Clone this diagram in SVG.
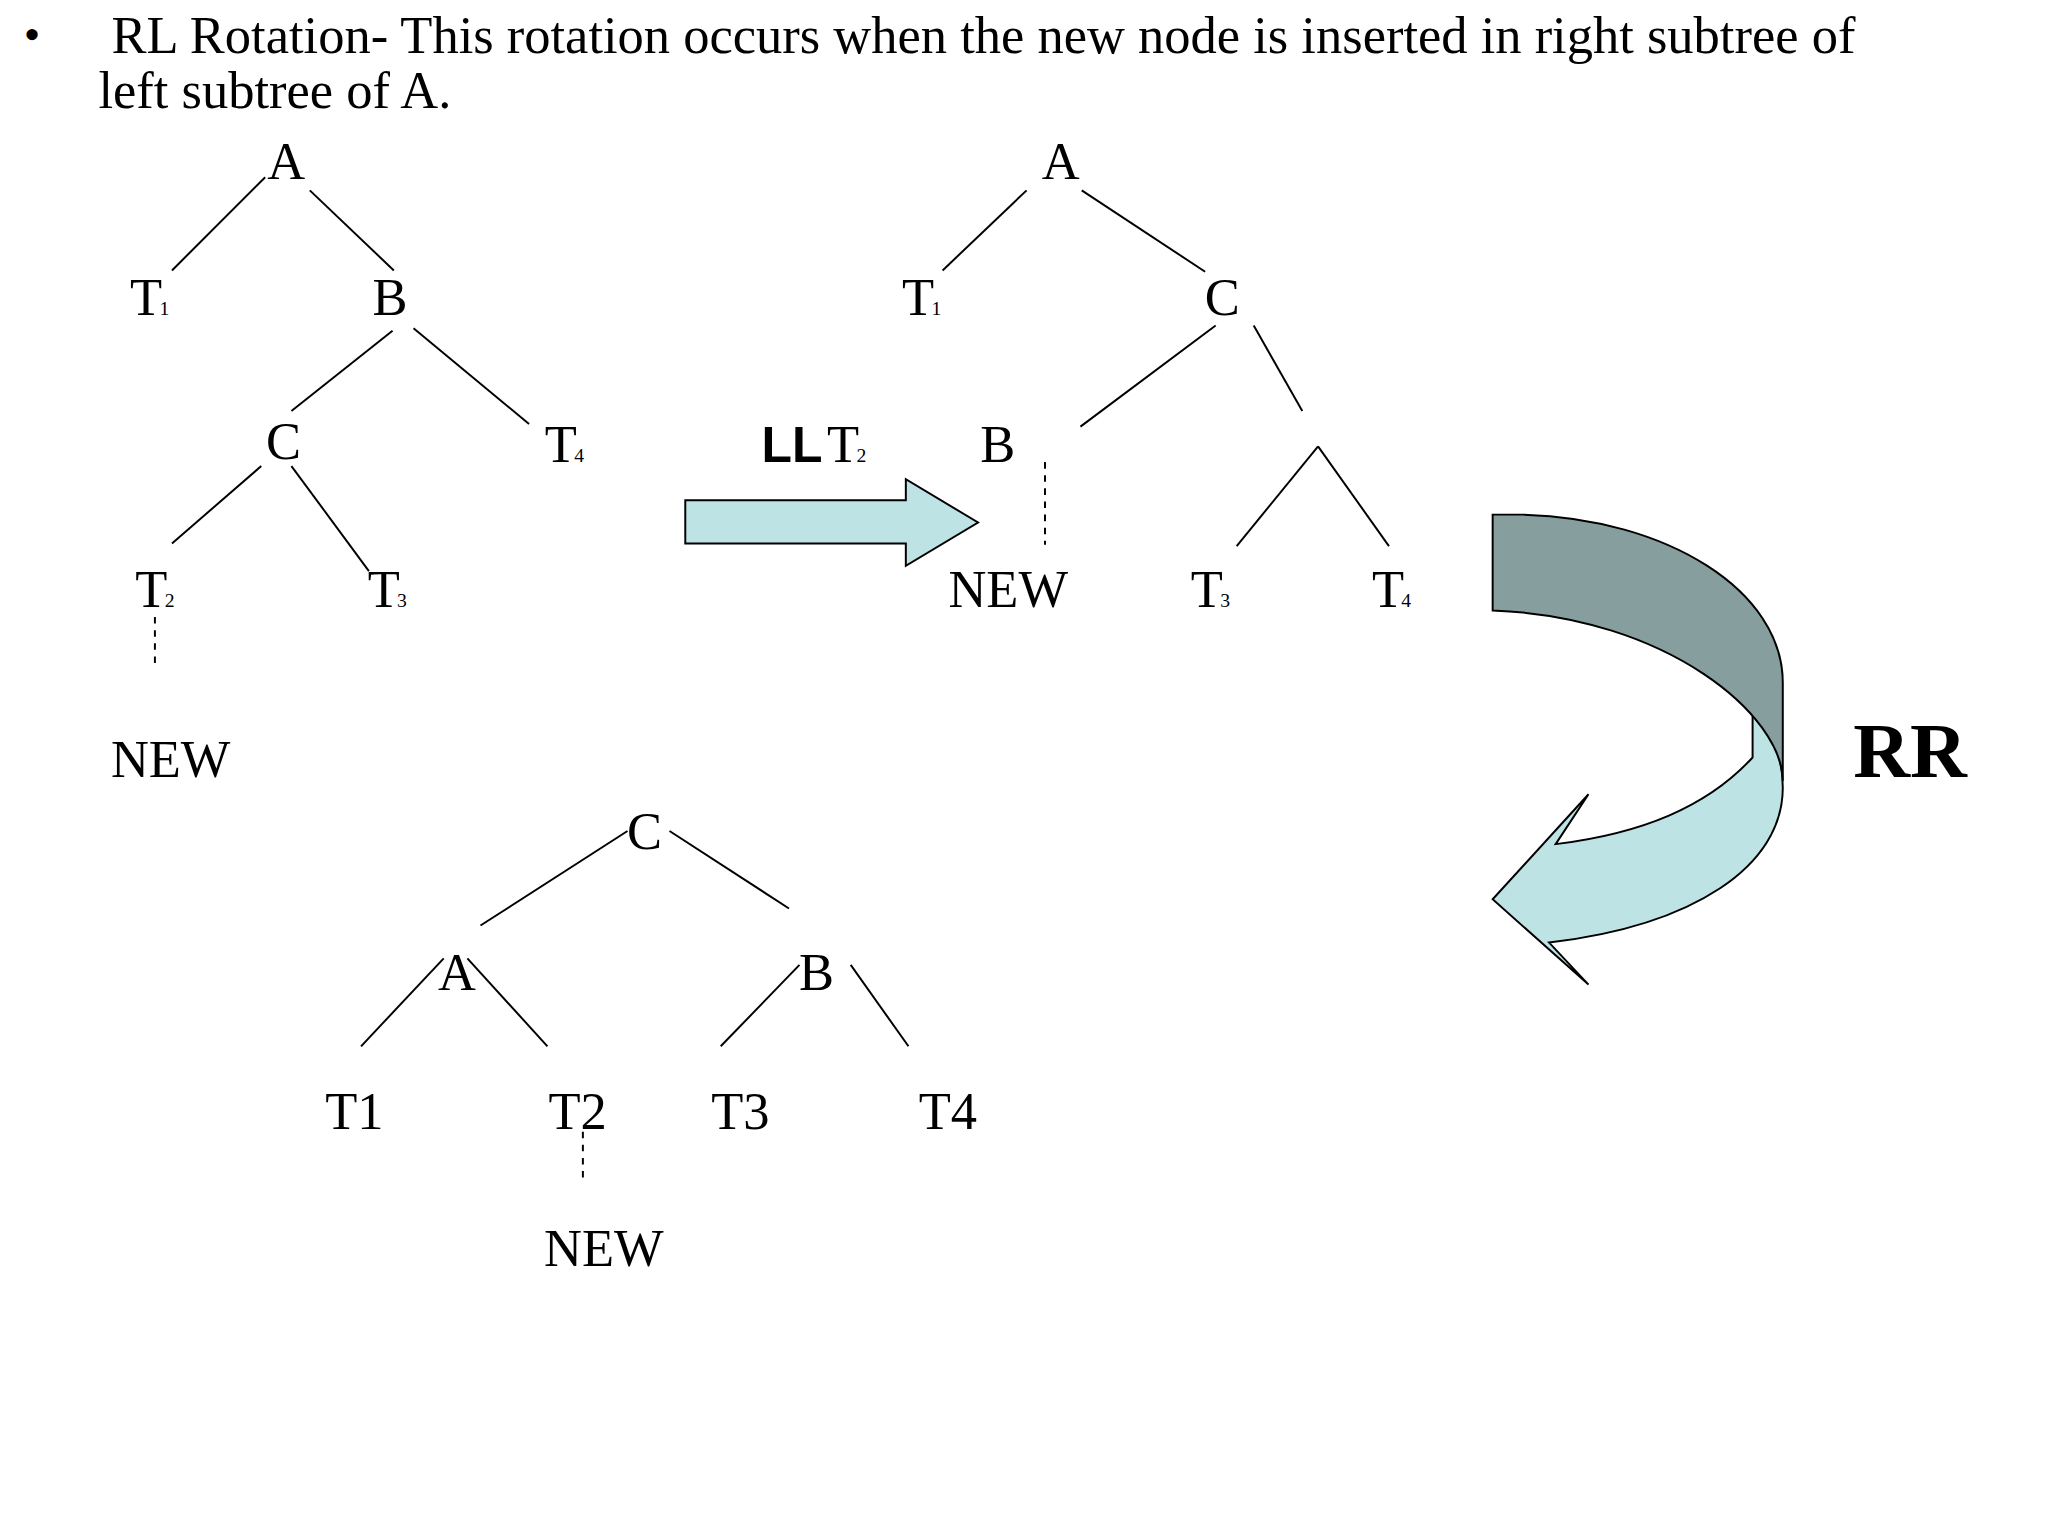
<svg xmlns="http://www.w3.org/2000/svg" width="2048" height="1536" viewBox="0 0 2048 1536">
<style>
text{font-family:"Liberation Serif","Times New Roman",serif;fill:#000}
.l{font-size:40px;text-anchor:middle}
.s{font-size:15px}
.e line{stroke:#000;stroke-width:1.5}
.d{stroke-dasharray:5,5}
</style>
<rect width="2048" height="1536" fill="#fff"/>
<g transform="scale(1.3128)">
<g id="title">
<text x="18" y="38" style="font-size:36px">•</text>
<text x="85" y="40" style="font-size:40px">RL Rotation- This rotation occurs when the new node is inserted in right subtree of</text>
<text x="75" y="82" style="font-size:40px">left subtree of A.</text>
</g>
<g id="connectors" class="e">
<line x1="131" y1="206" x2="202" y2="135"/><line x1="236" y1="145" x2="300" y2="206"/>
<line x1="299" y1="252" x2="222" y2="313"/><line x1="315" y1="250" x2="403" y2="323"/>
<line x1="199" y1="355" x2="131" y2="414"/><line x1="222" y1="355" x2="281" y2="435"/>
<line class="d" x1="118" y1="470" x2="118" y2="508"/>
<line x1="782" y1="145" x2="718" y2="206"/><line x1="824" y1="145" x2="918" y2="207"/>
<line x1="926" y1="248" x2="823" y2="325"/><line x1="955" y1="248" x2="992" y2="313"/>
<line class="d" x1="796" y1="352" x2="796" y2="415"/>
<line x1="1004" y1="340" x2="942" y2="416"/><line x1="1004" y1="340" x2="1058" y2="416"/>
<line x1="478" y1="633" x2="366" y2="705"/><line x1="510" y1="633" x2="601" y2="692"/>
<line x1="338" y1="730" x2="275" y2="797"/><line x1="356" y1="730" x2="417" y2="797"/>
<line x1="609" y1="735" x2="549" y2="797"/><line x1="648" y1="735" x2="692" y2="797"/>
<line class="d" x1="444" y1="862" x2="444" y2="898"/>
</g>
<g id="tree1">
<text class="l" x="218" y="136">A</text>
<text class="l" x="114" y="240">T<tspan class="s" dx="-2">1</tspan></text>
<text class="l" x="297" y="240">B</text>
<text class="l" x="216" y="350">C</text>
<text class="l" x="430" y="352">T<tspan class="s" dx="-2">4</tspan></text>
<text class="l" x="118" y="462">T<tspan class="s" dx="-2">2</tspan></text>
<text class="l" x="295" y="462">T<tspan class="s" dx="-2">3</tspan></text>
<text class="l" x="130" y="592">NEW</text>
</g>
<g id="tree2">
<text class="l" x="808" y="136">A</text>
<text class="l" x="702" y="240">T<tspan class="s" dx="-2">1</tspan></text>
<text class="l" x="931" y="240">C</text>
<text class="l" x="760" y="352">B</text>
<text class="l" x="768" y="462">NEW</text>
<text class="l" x="922" y="462">T<tspan class="s" dx="-2">3</tspan></text>
<text class="l" x="1060" y="462">T<tspan class="s" dx="-2">4</tspan></text>
</g>
<g id="tree3">
<text class="l" x="491" y="647">C</text>
<text class="l" x="348" y="754">A</text>
<text class="l" x="622" y="754">B</text>
<text class="l" x="270" y="860">T1</text>
<text class="l" x="440" y="860">T2</text>
<text class="l" x="564" y="860">T3</text>
<text class="l" x="722" y="860">T4</text>
<text class="l" x="460" y="964">NEW</text>
</g>
<g id="ll">
<polygon points="522,381 690,381 690,365 745,398 690,431 690,414 522,414" fill="#bde3e4" stroke="#000" stroke-width="1.5"/>
<text x="580" y="352" style="font-family:'Liberation Sans',Arial,sans-serif;font-weight:bold;font-size:38px">LL</text>
<text x="630" y="352" style="font-size:40px">T<tspan class="s" dx="-2">2</tspan></text>
</g>
<g id="rr">
<path d="M1335,537 L1335,577 C1300,615 1250,635 1185,643 L1210,605 L1137,685 L1210,750 L1180,718 C1290,705 1358,660 1358,600 C1358,575 1350,555 1335,537 Z" fill="#bde3e4" stroke="#000" stroke-width="1.5"/>
<path d="M1137,392 L1160,392 C1270,395 1358,450 1358,520 L1358,595 C1358,545 1270,470 1137,465 Z" fill="#869e9d" stroke="#000" stroke-width="1.5"/>
<text x="1455" y="592" style="font-size:60px;font-weight:bold;text-anchor:middle">RR</text>
</g>
</g>
</svg>
